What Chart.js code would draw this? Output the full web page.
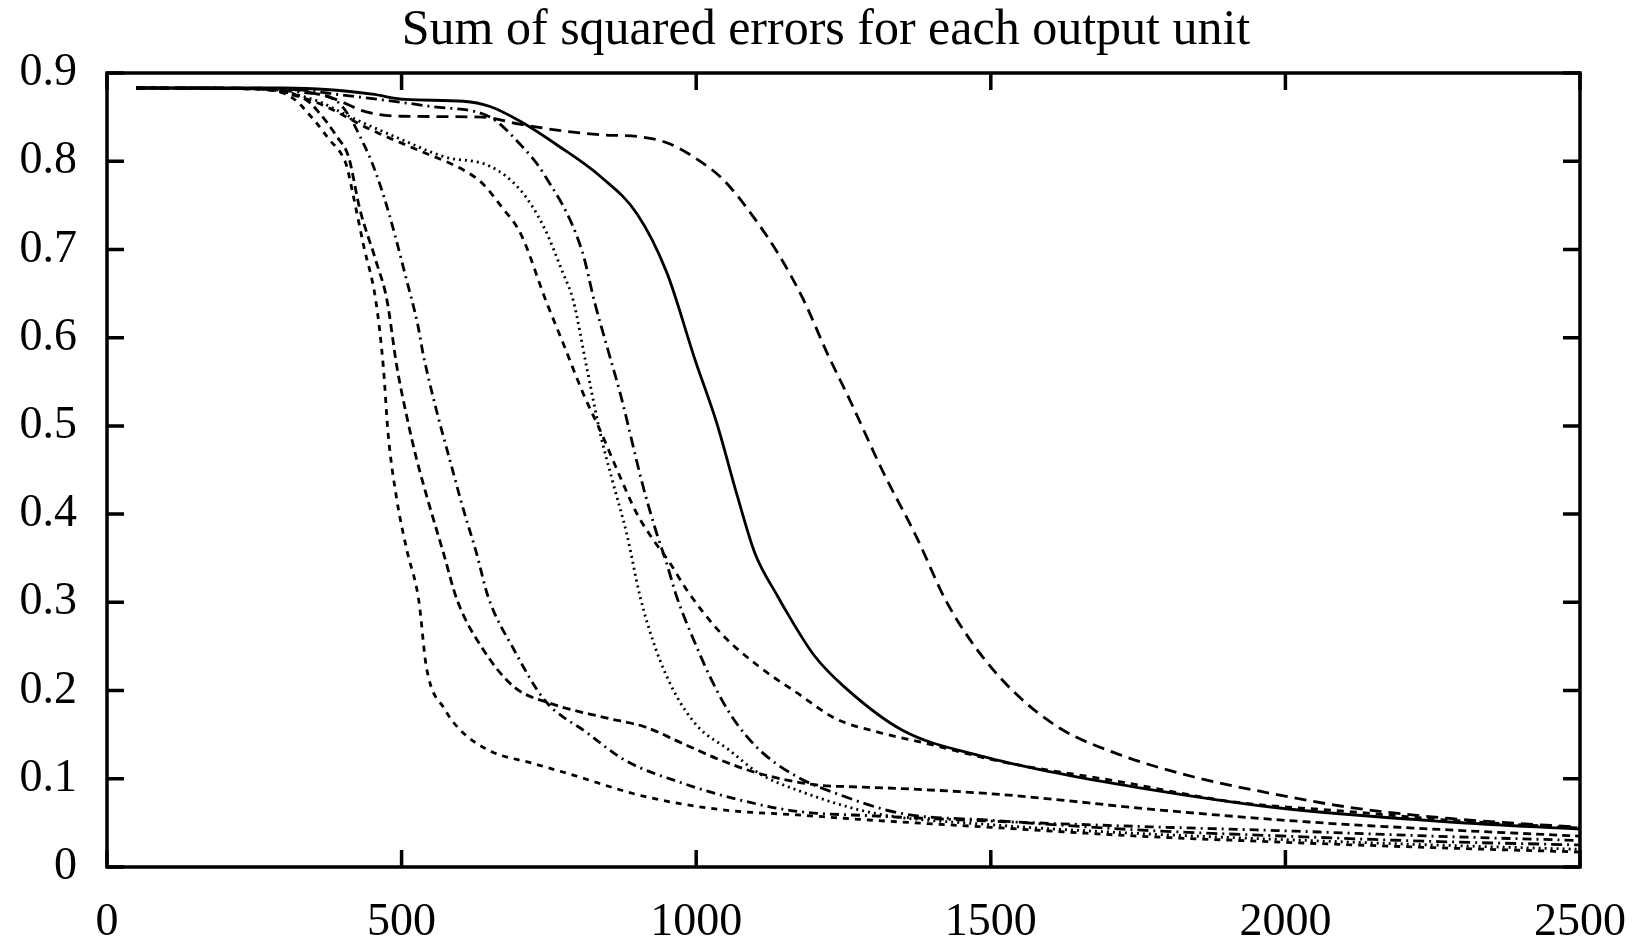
<!DOCTYPE html>
<html>
<head>
<meta charset="utf-8">
<title>Sum of squared errors for each output unit</title>
<script src="https://cdn.jsdelivr.net/npm/chart.js@4/dist/chart.umd.min.js"></script>
<style>
  html, body { margin: 0; padding: 0; background: #fff; }
  #wrap { width: 1643px; height: 938px; position: relative; }
</style>
</head>
<body>
<div id="wrap"><canvas id="errChart"></canvas></div>
<script>
// Tick values for the two axes
const xTickValues = [0, 500, 1000, 1500, 2000, 2500];
const yTickValues = [0, 0.1, 0.2, 0.3, 0.4, 0.5, 0.6, 0.7, 0.8, 0.9];

// One curve per output unit (iterations, sum of squared errors)
const unit1X = [50, 200, 300, 378, 450, 507, 605, 650, 702, 767, 837, 900, 950, 998, 1035, 1070, 1100, 1139, 1150, 1200, 1250, 1350, 1488, 1600, 1750, 1975, 2279, 2500];
const unit1Y = [0.883, 0.883, 0.883, 0.881, 0.876, 0.870, 0.868, 0.862, 0.845, 0.817, 0.783, 0.740, 0.674, 0.575, 0.503, 0.420, 0.355, 0.306, 0.293, 0.240, 0.205, 0.155, 0.125, 0.108, 0.090, 0.068, 0.051, 0.043];

const unit2X = [50, 200, 300, 380, 440, 500, 637, 700, 767, 837, 900, 950, 1000, 1046, 1097, 1142, 1182, 1224, 1261, 1317, 1374, 1423, 1475, 1540, 1618, 1716, 1845, 1975, 2105, 2279, 2500];
const unit2Y = [0.883, 0.883, 0.882, 0.872, 0.856, 0.851, 0.850, 0.842, 0.835, 0.830, 0.828, 0.821, 0.803, 0.779, 0.737, 0.692, 0.643, 0.580, 0.529, 0.448, 0.374, 0.303, 0.248, 0.198, 0.157, 0.128, 0.102, 0.0835, 0.068, 0.055, 0.045];

const unit3X = [50, 300, 400, 550, 650, 700, 741, 806, 828, 852, 871, 910, 933, 950, 967, 996, 1029, 1061, 1107, 1172, 1237, 1346, 1500, 1750, 2000, 2250, 2500];
const unit3Y = [0.883, 0.882, 0.875, 0.862, 0.850, 0.820, 0.786, 0.699, 0.639, 0.582, 0.537, 0.431, 0.378, 0.344, 0.306, 0.257, 0.208, 0.170, 0.133, 0.102, 0.0835, 0.061, 0.053, 0.042, 0.035, 0.029, 0.025];

const unit4X = [50, 250, 350, 420, 495, 573, 651, 702, 741, 774, 791, 814, 837, 859, 882, 905, 932, 964, 1003, 1055, 1107, 1172, 1302, 1500, 1750, 2000, 2250, 2500];
const unit4Y = [0.883, 0.882, 0.870, 0.848, 0.826, 0.805, 0.794, 0.767, 0.726, 0.673, 0.643, 0.567, 0.492, 0.435, 0.378, 0.306, 0.246, 0.197, 0.159, 0.133, 0.106, 0.087, 0.061, 0.048, 0.038, 0.031, 0.025, 0.020];

const unit5X = [50, 250, 350, 450, 530, 605, 637, 670, 702, 746, 774, 808, 837, 871, 899, 927, 955, 984, 1042, 1107, 1172, 1237, 1302, 1391, 1521, 1716, 1910, 2105, 2279, 2500];
const unit5Y = [0.883, 0.882, 0.868, 0.835, 0.812, 0.790, 0.775, 0.748, 0.718, 0.640, 0.594, 0.537, 0.495, 0.442, 0.401, 0.371, 0.345, 0.314, 0.265, 0.227, 0.197, 0.168, 0.154, 0.140, 0.119, 0.097, 0.074, 0.063, 0.053, 0.044];

const unit6X = [50, 250, 312, 351, 378, 397, 407, 417, 436, 456, 469, 477, 492, 509, 529, 542, 574, 600, 652, 720, 782, 912, 1042, 1172, 1300, 1500, 1750, 2000, 2250, 2500];
const unit6Y = [0.883, 0.882, 0.873, 0.847, 0.824, 0.809, 0.794, 0.764, 0.703, 0.643, 0.567, 0.492, 0.416, 0.359, 0.303, 0.227, 0.178, 0.155, 0.131, 0.118, 0.106, 0.080, 0.065, 0.059, 0.053, 0.045, 0.035, 0.028, 0.022, 0.017];

const unit7X = [50, 250, 339, 365, 390, 410, 429, 456, 475, 492, 509, 526, 548, 571, 594, 639, 691, 750, 847, 912, 977, 1042, 1107, 1204, 1261, 1346, 1521, 1780, 2040, 2279, 2500];
const unit7Y = [0.883, 0.882, 0.869, 0.851, 0.828, 0.805, 0.746, 0.688, 0.643, 0.567, 0.510, 0.461, 0.408, 0.356, 0.303, 0.246, 0.204, 0.186, 0.169, 0.159, 0.140, 0.121, 0.106, 0.093, 0.091, 0.089, 0.082, 0.065, 0.051, 0.042, 0.035];

const unit8X = [50, 250, 330, 390, 443, 468, 488, 507, 527, 537, 559, 582, 605, 627, 647, 691, 743, 815, 879, 977, 1074, 1172, 1300, 1500, 1750, 2000, 2250, 2500];
const unit8Y = [0.883, 0.882, 0.878, 0.868, 0.809, 0.764, 0.718, 0.669, 0.616, 0.580, 0.518, 0.461, 0.405, 0.356, 0.306, 0.246, 0.189, 0.152, 0.121, 0.095, 0.076, 0.063, 0.058, 0.052, 0.046, 0.041, 0.035, 0.030];

// gnuplot-like monochrome line styles
const units = [
  { xs: unit1X, ys: unit1Y, dash: [] },
  { xs: unit2X, ys: unit2Y, dash: [12, 7] },
  { xs: unit3X, ys: unit3Y, dash: [11, 5, 2, 5] },
  { xs: unit4X, ys: unit4Y, dash: [2, 4] },
  { xs: unit5X, ys: unit5Y, dash: [7, 6] },
  { xs: unit6X, ys: unit6Y, dash: [6, 6] },
  { xs: unit7X, ys: unit7Y, dash: [8, 5] },
  { xs: unit8X, ys: unit8Y, dash: [9, 5, 2, 5] }
];

const toPoints = (xs, ys) => xs.map((x, i) => ({ x: x, y: ys[i] }));

//Frame round the plot area and inward ticks on all four sides
const frameTicks = {
  id: "frameTicks",
  afterDraw(chart) {
    const ctx = chart.ctx;
    const a = chart.chartArea;
    const xs = chart.scales.x;
    const ys = chart.scales.y;
    const len = 17;
    ctx.save();
    ctx.strokeStyle = "#000";
    ctx.lineWidth = 3.5;
    ctx.beginPath();
    xs.ticks.forEach((t) => {
      const px = xs.getPixelForValue(t.value);
      ctx.moveTo(px, a.bottom);
      ctx.lineTo(px, a.bottom - len);
      ctx.moveTo(px, a.top);
      ctx.lineTo(px, a.top + len);
    });
    ys.ticks.forEach((t) => {
      const py = ys.getPixelForValue(t.value);
      ctx.moveTo(a.left, py);
      ctx.lineTo(a.left + len, py);
      ctx.moveTo(a.right, py);
      ctx.lineTo(a.right - len, py);
    });
    ctx.stroke();
    ctx.strokeRect(a.left, a.top, a.right - a.left, a.bottom - a.top);
    ctx.restore();
  },
};

Chart.defaults.font.family = "'Liberation Serif', 'Times New Roman', serif";
Chart.defaults.color = "#000";

new Chart(document.getElementById("errChart"), {
  type: "line",
  data: {
    datasets: units.map((u, i) => ({
      label: "unit " + (i + 1),
      data: toPoints(u.xs, u.ys),
      borderColor: "#000",
      borderWidth: 2.8,
      borderDash: u.dash,
      pointRadius: 0,
      fill: false,
      cubicInterpolationMode: "monotone",
    })),
  },
  options: {
    responsive: true,
    maintainAspectRatio: false,
    animation: false,
    layout: { padding: { left: 9, right: 0, top: 0, bottom: 0 } },
    plugins: {
      legend: { display: false },
      tooltip: { enabled: false },
      title: {
        display: true,
        text: "Sum of squared errors for each output unit",
        font: { size: 50, weight: "normal" },
        color: "#000",
        padding: { top: 1, bottom: 12 },
      },
    },
    scales: {
      x: {
        type: "linear",
        min: 0,
        max: 2500,
        // grid lines hidden, tick length only used as label offset
        grid: { display: false, drawTicks: true, tickLength: 11 },
        border: { display: false },
        afterBuildTicks: (scale) => {
          scale.ticks = xTickValues.map((v) => ({ value: v }));
        },
        afterFit: (scale) => {
          scale.height = 71;
        },
        ticks: {
          font: { size: 46 },
          color: "#000",
          padding: 17,
          maxRotation: 0,
          autoSkip: false,
          callback: (v) => String(v),
        },
      },
      y: {
        type: "linear",
        min: 0,
        max: 0.9,
        grid: { display: false, drawTicks: false },
        border: { display: false },
        afterBuildTicks: (scale) => {
          scale.ticks = yTickValues.map((v) => ({ value: v }));
        },
        afterFit: (scale) => {
          scale.width = 98;
        },
        ticks: {
          font: { size: 46 },
          color: "#000",
          padding: 30,
          autoSkip: false,
          callback: (v) => (v === 0 ? "0" : v.toFixed(1)),
        },
      },
    },
  },
  plugins: [frameTicks],
});
</script>
</body>
</html>
